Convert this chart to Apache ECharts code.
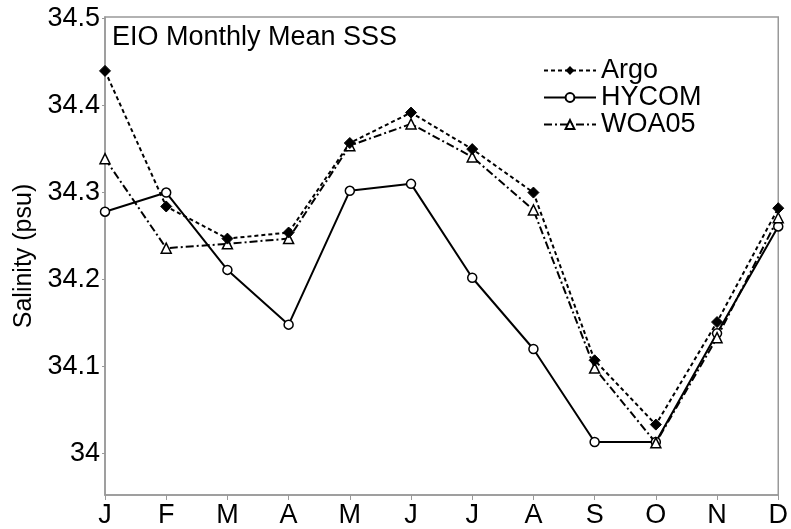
<!DOCTYPE html>
<html>
<head>
<meta charset="utf-8">
<script src="https://cdn.jsdelivr.net/npm/echarts@6/dist/echarts.min.js"></script>
<style>html,body{margin:0;padding:0;background:#fff}#c{width:791px;height:529px}</style>
</head>
<body>
<div id="c"></div>
<script>
var months = ['J','F','M','A','M','J','J','A','S','O','N','D'];
var argo  = [34.440, 34.284, 34.247, 34.254, 34.357, 34.392, 34.350, 34.300, 34.107, 34.033, 34.151, 34.282];
var hycom = [34.278, 34.300, 34.211, 34.148, 34.302, 34.310, 34.202, 34.120, 34.013, 34.013, 34.138, 34.261];
var woa05 = [34.339, 34.236, 34.241, 34.247, 34.354, 34.379, 34.341, 34.280, 34.098, 34.012, 34.133, 34.271];
var yTicks = [34, 34.1, 34.2, 34.3, 34.4, 34.5];

var FONT = 'Liberation Sans';
var FS = 27;
var chart = echarts.init(document.getElementById('c'), null, {renderer: 'canvas'});
chart.setOption({
  backgroundColor: '#fff',
  animation: false,
  textStyle: {fontFamily: FONT, color: '#000'},
  title: {
    text: 'EIO Monthly Mean SSS',
    left: 112, top: 24, padding: 0,
    textStyle: {fontFamily: FONT, fontSize: FS, fontWeight: 'normal', color: '#000'}
  },
  legend: {
    orient: 'vertical',
    left: 543, top: 57,
    itemWidth: 52, itemHeight: 11, itemGap: 0, padding: 0,
    textStyle: {fontFamily: FONT, fontSize: FS, color: '#000', lineHeight: 20},
    data: ['Argo', 'HYCOM', 'WOA05']
  },
  grid: {
    left: 105, right: 8, top: 17, bottom: 34,
    show: true, borderColor: '#999', borderWidth: 1.5, backgroundColor: 'transparent'
  },
  xAxis: {
    type: 'category',
    data: months,
    boundaryGap: false,
    axisLine: {lineStyle: {color: '#999', width: 1.5}},
    axisTick: {show: true, alignWithLabel: true, length: 5, lineStyle: {color: '#999'}},
    axisLabel: {fontFamily: FONT, fontSize: FS, color: '#000', margin: 7},
    splitLine: {show: false}
  },
  yAxis: {
    type: 'value',
    min: 33.952, max: 34.502,
    name: 'Salinity (psu)',
    nameLocation: 'middle',
    nameGap: 63,
    nameTextStyle: {fontFamily: FONT, fontSize: 25, color: '#000'},
    axisLine: {show: true, lineStyle: {color: '#999', width: 1.5}},
    axisTick: {show: true, length: 3, customValues: yTicks, lineStyle: {color: '#999'}},
    axisLabel: {fontFamily: FONT, fontSize: FS, color: '#000', margin: 5, customValues: yTicks,
      padding: [0, 0, 10, 0],
      formatter: function (v) { return String(Math.round(v * 10) / 10); }},
    splitLine: {show: false}
  },
  series: [
    {
      name: 'Argo', type: 'line', data: argo,
      symbol: 'diamond', symbolSize: 11,
      lineStyle: {color: '#000', width: 2, type: [4, 3]},
      itemStyle: {color: '#000', borderColor: '#000'},
      z: 3
    },
    {
      name: 'HYCOM', type: 'line', data: hycom,
      symbol: 'circle', symbolSize: 9,
      lineStyle: {color: '#000', width: 2, type: 'solid'},
      itemStyle: {color: '#fff', borderColor: '#000', borderWidth: 1.5},
      z: 2
    },
    {
      name: 'WOA05', type: 'line', data: woa05,
      symbol: 'triangle', symbolSize: 10,
      lineStyle: {color: '#000', width: 2, type: [8, 3, 2, 3]},
      itemStyle: {color: '#fff', borderColor: '#000', borderWidth: 1.5},
      z: 2
    }
  ]
});
</script>
</body>
</html>
